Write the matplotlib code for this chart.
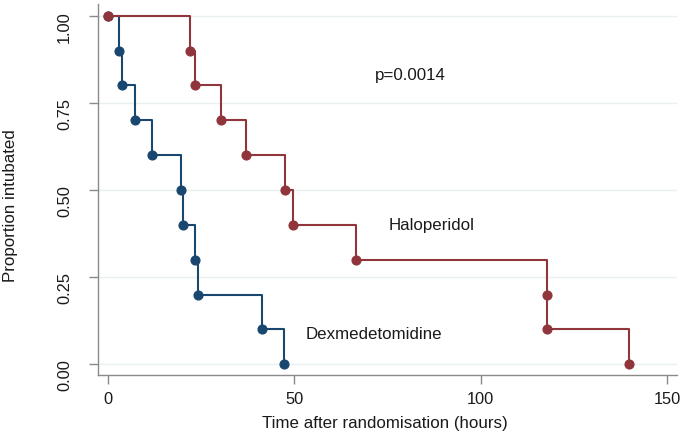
import matplotlib
matplotlib.use("Agg")
import matplotlib.pyplot as plt
import matplotlib.transforms as mtransforms

plt.rcParams['font.family'] = ['Liberation Sans', 'DejaVu Sans']

# Data (Kaplan-Meier style step curves)
dex_time = [0, 3.0, 3.75, 7.3, 11.7, 19.6, 20.2, 23.2, 24.1, 41.4, 47.1]
dex_surv = [1.0, 0.9, 0.8, 0.7, 0.6, 0.5, 0.4, 0.3, 0.2, 0.1, 0.0]
hal_time = [0, 22.1, 23.2, 30.3, 37.0, 47.6, 49.6, 66.6, 117.7, 117.7, 139.9]
hal_surv = [1.0, 0.9, 0.8, 0.7, 0.6, 0.5, 0.4, 0.3, 0.2, 0.1, 0.0]
x_ticks = [0, 50, 100, 150]
y_ticks = [0.0, 0.25, 0.50, 0.75, 1.00]
y_ticklabels = ["0.00", "0.25", "0.50", "0.75", "1.00"]

blue = '#1a476f'
red = '#90353b'
spine_c = '#8a8a8a'
txt_c = '#1a1a1a'

fig = plt.figure(figsize=(6.85, 4.35), dpi=100)
ax = fig.add_axes([0.1426, 0.1363, 0.988 - 0.1426, 0.988 - 0.1363])

for yv in y_ticks:
    ax.axhline(yv, color='#e8f0f2', lw=1.0, zorder=0)

ax.step(dex_time, dex_surv, where='post', color=blue, lw=1.5, zorder=2)
ax.plot(dex_time, dex_surv, 'o', color=blue, ms=6.3, zorder=3)
ax.step(hal_time, hal_surv, where='post', color=red, lw=1.5, zorder=4)
ax.plot(hal_time, hal_surv, 'o', color=red, ms=6.3, zorder=5)

ax.text(81, 0.832, "p=0.0014", ha='center', va='center', fontsize=12.2, color=txt_c)
ax.text(86.8, 0.402, "Haloperidol", ha='center', va='center', fontsize=12.2, color=txt_c)
ax.text(71.3, 0.087, "Dexmedetomidine", ha='center', va='center', fontsize=12.2, color=txt_c)

ax.set_xlim(-2.8, 152.6)
ax.set_ylim(-0.03, 1.033)
ax.set_xticks(x_ticks)
ax.set_yticks(y_ticks)
ax.set_yticklabels(y_ticklabels, rotation=90, va='center')
ax.tick_params(axis='both', colors=spine_c, labelcolor=txt_c, labelsize=11.8, length=6.5, width=1.0)
ax.tick_params(axis='x', pad=5)
ax.tick_params(axis='y', pad=12)

# Stata-like downward offset of the rotated y tick labels
offset = mtransforms.ScaledTranslation(0, -10 / 100.0, fig.dpi_scale_trans)
for lab in ax.get_yticklabels():
    lab.set_transform(lab.get_transform() + offset)

for s in ['top', 'right']:
    ax.spines[s].set_visible(False)
for s in ['left', 'bottom']:
    ax.spines[s].set_color(spine_c)
    ax.spines[s].set_linewidth(1.0)

ax.set_xlabel("Time after randomisation (hours)", fontsize=12.2, color=txt_c, va='center')
ax.xaxis.set_label_coords(0.4954, -0.128)
ax.set_ylabel("Proportion intubated", fontsize=12.2, color=txt_c, va='center')
ax.yaxis.set_label_coords(-0.151, 0.458)

fig.savefig("out.png", dpi=100)
